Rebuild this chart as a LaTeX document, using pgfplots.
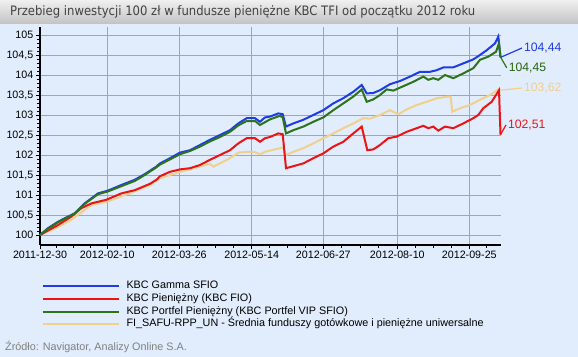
\documentclass[border=0pt]{standalone}
\usepackage{pgfplots}
\pgfplotsset{compat=1.18}
\usepackage{fontspec}
\setmainfont{Liberation Sans}
\newfontfamily\titlefont{DejaVu Sans}[FakeStretch=0.895]
\definecolor{bgc}{RGB}{225,236,252}
\definecolor{tbtop}{RGB}{240,240,240}
\definecolor{tbbot}{RGB}{196,196,196}
\definecolor{titlec}{RGB}{66,66,66}
\definecolor{gridc}{RGB}{160,166,176}
\definecolor{cblue}{RGB}{30,60,230}
\definecolor{cred}{RGB}{235,20,20}
\definecolor{cgreen}{RGB}{45,115,25}
\definecolor{ctan}{RGB}{240,208,140}
\definecolor{lgreen}{RGB}{40,100,10}
\definecolor{srcc}{RGB}{128,128,128}

\pgfplotstableread{
x y
0 100.0
8 100.17
18 100.33
28 100.46
34.7 100.54
44.7 100.79
58 101.04
68 101.11
81.3 101.25
94.7 101.38
104.7 101.52
116.3 101.71
120 101.79
130 101.92
140 102.06
150 102.12
160 102.25
170 102.38
180 102.50
190 102.62
198.3 102.79
206.7 102.92
215 102.92
220 102.83
225 102.94
230 102.96
238.3 103.04
242.7 103.02
246 102.71
253.3 102.79
263.3 102.88
273.3 103.00
283.3 103.12
293.3 103.29
303.3 103.42
313.3 103.58
321.7 103.75
326.7 103.54
333.3 103.55
340 103.62
350 103.77
360 103.85
370 103.96
380 104.08
390 104.08
396.7 104.12
403.3 104.19
413.3 104.19
423.3 104.29
433.3 104.39
440 104.50
446.7 104.62
455 104.79
458.3 104.96
460.5 104.44
}\blue

\pgfplotstableread{
x y
0 100.0
8 100.16
18 100.32
28 100.45
34.7 100.54
44.7 100.78
58 101.02
68 101.09
81.3 101.22
94.7 101.35
104.7 101.50
116.3 101.69
120 101.76
130 101.89
140 102.02
150 102.10
160 102.21
170 102.34
180 102.45
190 102.58
198.3 102.74
206.7 102.85
215 102.85
220 102.75
230 102.89
240 102.98
242.7 102.94
246 102.54
253.3 102.62
263.3 102.71
273.3 102.83
283.3 102.94
293.3 103.12
303.3 103.29
313.3 103.46
321.7 103.64
326.7 103.33
333.3 103.39
340 103.50
346.7 103.64
353.3 103.61
363.3 103.72
373.3 103.83
383.3 103.96
388.3 103.88
393.3 103.92
398.3 103.88
405 104.00
413.3 103.92
423.3 104.04
433.3 104.17
440 104.38
448.3 104.46
456 104.58
459 104.79
460.5 104.45
}\green

\pgfplotstableread{
x y
0 100.0
18 100.25
31.3 100.46
41.3 100.67
51.3 100.79
66.3 100.88
81.3 101.04
94.7 101.12
110 101.28
117 101.39
120 101.47
130 101.58
140 101.64
150 101.67
160 101.75
170 101.88
180 102.00
190 102.12
198.3 102.29
206.7 102.42
215 102.42
220 102.33
225 102.42
230 102.45
238.3 102.54
242.7 102.52
246 101.67
253.3 101.72
263.3 101.79
273.3 101.92
283.3 102.04
293.3 102.21
303.3 102.33
313.3 102.54
321.7 102.71
327.3 102.12
333.3 102.14
340 102.25
348.3 102.42
356.7 102.46
366.7 102.58
376.7 102.67
383.3 102.73
388.3 102.67
393.3 102.71
398.3 102.61
405 102.71
413.3 102.67
423.3 102.79
433.3 102.92
438.3 103.00
443.3 103.17
451.7 103.33
456 103.50
459 103.62
460.5 102.51
}\red

\pgfplotstableread{
x y
0 100.0
18 100.20
31.3 100.38
51.3 100.75
66.3 100.83
81.3 100.96
110 101.25
120 101.42
130 101.50
140 101.58
150 101.64
160 101.71
170 101.78
173.3 101.71
180 101.79
190 101.92
198.3 102.06
206.7 102.08
215 102.07
220 102.02
225 102.08
230 102.11
243.3 102.19
246 102.00
253.3 102.08
263.3 102.17
273.3 102.29
283.3 102.42
293.3 102.54
303.3 102.67
313.3 102.79
323.3 102.92
330 102.91
340 103.00
350 103.12
358.3 103.02
366.7 103.14
376.7 103.25
386.7 103.33
396.7 103.42
408.3 103.46
410.7 103.46
412.3 103.08
420 103.17
430 103.25
440 103.38
450 103.50
458.3 103.64
460.5 103.62
}\tan

\begin{document}
\begin{tikzpicture}
\fill[bgc] (0bp,0bp) rectangle (578bp,-357bp);
\shade[top color=tbtop, bottom color=tbbot] (0bp,0bp) rectangle (578bp,-23bp);
\node[anchor=west, text=titlec, inner sep=0pt] at (10bp,-12bp)
  {\titlefont\fontsize{13bp}{15bp}\selectfont Przebieg inwestycji 100 zł w fundusze pieniężne KBC TFI od początku 2012 roku};
\node[anchor=west, text=srcc, inner sep=0pt] at (5bp,-347bp)
  {\fontsize{10.8bp}{12bp}\selectfont Źródło: Navigator, Analizy Online S.A.};
\begin{axis}[
  at={(40bp,-245bp)}, anchor=south west,
  scale only axis, width=460.5bp, height=218bp,
  xmin=0, xmax=460.5, ymin=99.75, ymax=105.2,
  axis lines=left, axis line style={-, black, line width=1.2bp},
  clip=false,
  tick align=outside,
  major tick length=4bp, minor tick length=2.5bp,
  tick style={black, line width=0.7bp},
  grid=major, major grid style={gridc, line width=0.9bp},
  xtick={0,67.3,139.3,211.7,283.3,357.3,429.3},
  xticklabels={2011-12-30,2012-02-10,2012-03-26,2012-05-14,2012-06-27,2012-08-10,2012-09-25},
  minor xtick={16.8,33.6,50.5,85.3,103.3,121.3,157.4,175.5,193.6,229.6,247.5,265.4,301.8,320.3,338.8,375.3,393.3,411.3,446.8},
  ytick={100,100.5,101,101.5,102,102.5,103,103.5,104,104.5,105},
  yticklabels={100,{100,5},101,{101,5},102,{102,5},103,{103,5},104,{104,5},105},
  minor y tick num=4,
  ticklabel style={font=\fontsize{10.7bp}{12bp}\selectfont, inner sep=0pt},
  yticklabel style={xshift=-2.5bp},
  xticklabel style={yshift=-2.3bp},
  legend cell align=left,
  legend style={at={(axis description cs:0.0037,-0.16)}, anchor=north west,
    draw=none, fill=none, inner sep=0pt, outer sep=0pt, column sep=6bp, row sep=0pt,
    nodes={inner sep=0pt, text height=9bp, text depth=3.7bp},
    font=\fontsize{10.8bp}{12bp}\selectfont},
  legend image code/.code={\draw[#1] (0bp,0bp) -- (76.6bp,0bp);},
]
\addlegendimage{cblue, line width=2.2bp}
\addlegendentry{KBC Gamma SFIO}
\addlegendimage{cred, line width=2.2bp}
\addlegendentry{KBC Pieniężny (KBC FIO)}
\addlegendimage{cgreen, line width=2.2bp}
\addlegendentry{KBC Portfel Pieniężny (KBC Portfel VIP SFIO)}
\addlegendimage{ctan, line width=2.2bp}
\addlegendentry{FI\_SAFU-RPP\_UN - Średnia funduszy gotówkowe i pieniężne uniwersalne}

\addplot[ctan, line width=2bp, forget plot] table {\tan};
\addplot[cred, line width=2bp, forget plot] table {\red};
\addplot[cblue, line width=2bp, forget plot] table {\blue};
\addplot[cgreen, line width=2bp, forget plot] table {\green};

\draw[cblue, line width=1.2bp] (axis cs:460.5,104.44) -- (axis cs:482,104.675)
  node[anchor=west, inner sep=1.5bp, font=\fontsize{12.2bp}{14bp}\selectfont] {104,44};
\draw[cgreen, line width=1.2bp] (axis cs:460.5,104.45) -- (axis cs:466.7,104.18)
  node[anchor=west, inner sep=1.5bp, text=lgreen, font=\fontsize{12.2bp}{14bp}\selectfont, yshift=-0.5bp] {104,45};
\draw[ctan, line width=1.2bp] (axis cs:460.5,103.62) -- (axis cs:482,103.675)
  node[anchor=west, inner sep=1.5bp, font=\fontsize{12.2bp}{14bp}\selectfont] {103,62};
\draw[cred, line width=1.2bp] (axis cs:460.5,102.51) -- (axis cs:466,102.75)
  node[anchor=west, inner sep=1.5bp, font=\fontsize{12.2bp}{14bp}\selectfont, yshift=-0.5bp] {102,51};
\end{axis}
\pgfresetboundingbox
\useasboundingbox (0bp,0bp) rectangle (578bp,-357bp);
\end{tikzpicture}
\end{document}
